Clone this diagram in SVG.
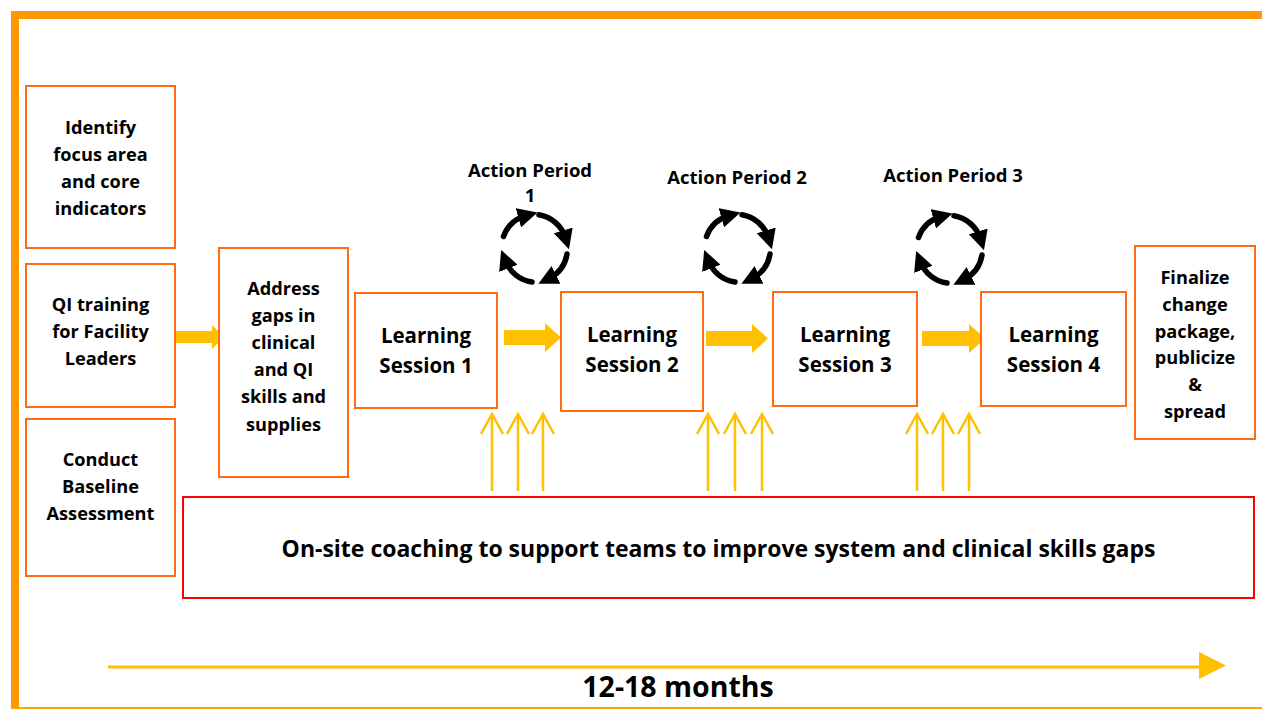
<svg xmlns="http://www.w3.org/2000/svg" width="1262" height="709" viewBox="0 0 1262 709">
  <style>
    .box { fill: #ffffff; stroke: #FF6A13; stroke-width: 2; }
    .coach { fill: #ffffff; stroke: #FF0000; stroke-width: 2; }
    .t { font-family: "Open Sans", Lato, sans-serif; font-weight: bold; fill: #000000; text-anchor: middle; }
    .s19 { font-size: 18.2px; }
    .s22 { font-size: 20.5px; }
    .ap { font-size: 18.5px; }
    .co { font-size: 23px; }
    .s26 { font-size: 28.5px; }
    .fat { fill: #FFC000; }
    .thin { stroke: #FFC000; stroke-width: 2.5; fill: none; }
    .cyc { stroke: #000000; stroke-width: 5.5; fill: none; stroke-linecap: round; marker-end: url(#cycHead); }
  </style>
  <defs>
    <marker id="cycHead" viewBox="0 0 10 10" refX="4" refY="5" markerWidth="3.6" markerHeight="3.6" markerUnits="strokeWidth" orient="auto">
      <path d="M0,0 L10,5 L0,10 Z" fill="#000000"/>
    </marker>
    <!-- one cycle of four clockwise arcs, centred on 0,0 -->
    <g id="cycle">
      <path class="cyc" d="M -31.5,-11.5 A 33.5 33.5 0 0 1 -9,-32.3"/>
      <path class="cyc" d="M 4,-33.3 A 33.5 33.5 0 0 1 30.5,-10"/>
      <path class="cyc" d="M 32,6 A 33.5 33.5 0 0 1 14,30.5"/>
      <path class="cyc" d="M -3,34 A 33.5 33.5 0 0 1 -29.5,13"/>
    </g>
    <!-- thin upward support arrow -->
    <g id="up">
      <line class="thin" x1="0" y1="78" x2="0" y2="1"/>
      <polyline class="thin" points="-11,21 0,1 11,21"/>
    </g>
  </defs>

  <!-- page frame -->
  <g id="frame">
    <rect x="11" y="11" width="1251" height="8" fill="#FF9900"/>
    <rect x="11" y="11" width="8" height="698" fill="#FF9900"/>
    <rect x="11" y="707" width="1251" height="2" fill="#FFA500"/>
  </g>

  <!-- connectors -->
  <g id="connectors">
    <path class="fat" d="M170,331 H212 V325 L224,337 L212,349 V343 H170 Z"/>
    <path class="fat" d="M504,330 H545 V323 L561,337.5 L545,352 V345 H504 Z"/>
    <path class="fat" d="M706,331 H752 V324 L768,338.5 L752,353 V346 H706 Z"/>
    <path class="fat" d="M922,331 H969 V324 L985,338.5 L969,353 V346 H922 Z"/>

    <use href="#up" x="492" y="413"/>
    <use href="#up" x="518" y="413"/>
    <use href="#up" x="543" y="413"/>
    <use href="#up" x="708" y="413"/>
    <use href="#up" x="735" y="413"/>
    <use href="#up" x="762" y="413"/>
    <use href="#up" x="917" y="413"/>
    <use href="#up" x="943" y="413"/>
    <use href="#up" x="969" y="413"/>

    <line x1="108" y1="667" x2="1201" y2="667" stroke="#FFC000" stroke-width="3"/>
    <polygon points="1199,652 1226,665.5 1199,679" fill="#FFC000"/>
  </g>

  <g id="identify">
    <rect class="box" x="26" y="86" width="149" height="162"/>
    <text class="t s19"><tspan x="100.5" y="134">Identify</tspan><tspan x="100.5" y="161">focus area</tspan><tspan x="100.5" y="188">and core</tspan><tspan x="100.5" y="215">indicators</tspan></text>
  </g>
  <g id="qi-training">
    <rect class="box" x="26" y="264" width="149" height="143"/>
    <text class="t s19"><tspan x="100.5" y="311">QI training</tspan><tspan x="100.5" y="338">for Facility</tspan><tspan x="100.5" y="365">Leaders</tspan></text>
  </g>
  <g id="baseline">
    <rect class="box" x="26" y="419" width="149" height="157"/>
    <text class="t s19"><tspan x="100.5" y="466">Conduct</tspan><tspan x="100.5" y="493">Baseline</tspan><tspan x="100.5" y="520">Assessment</tspan></text>
  </g>
  <g id="address-gaps">
    <rect class="box" x="219" y="248" width="129" height="229"/>
    <text class="t s19"><tspan x="283.5" y="295">Address</tspan><tspan x="283.5" y="322">gaps in</tspan><tspan x="283.5" y="349">clinical</tspan><tspan x="283.5" y="376">and QI</tspan><tspan x="283.5" y="403">skills and</tspan><tspan x="283.5" y="431">supplies</tspan></text>
  </g>
  <g id="session-1">
    <rect class="box" x="355" y="293" width="142" height="115"/>
    <text class="t s22"><tspan x="426" y="343">Learning</tspan><tspan x="426" y="373">Session 1</tspan></text>
  </g>
  <g id="session-2">
    <rect class="box" x="561" y="292" width="142" height="119"/>
    <text class="t s22"><tspan x="632" y="342">Learning</tspan><tspan x="632" y="372">Session 2</tspan></text>
  </g>
  <g id="session-3">
    <rect class="box" x="773" y="292" width="144" height="114"/>
    <text class="t s22"><tspan x="845" y="342">Learning</tspan><tspan x="845" y="372">Session 3</tspan></text>
  </g>
  <g id="session-4">
    <rect class="box" x="981" y="292" width="145" height="114"/>
    <text class="t s22"><tspan x="1053.5" y="342">Learning</tspan><tspan x="1053.5" y="372">Session 4</tspan></text>
  </g>
  <g id="finalize">
    <rect class="box" x="1135" y="246" width="120" height="193"/>
    <text class="t s19"><tspan x="1195" y="284">Finalize</tspan><tspan x="1195" y="311">change</tspan><tspan x="1195" y="338">package,</tspan><tspan x="1195" y="364">publicize</tspan><tspan x="1195" y="391">&amp;</tspan><tspan x="1195" y="418">spread</tspan></text>
  </g>

  <g id="action-period-1">
    <text class="t ap" x="530" y="177">Action Period</text>
    <text class="t ap" x="530" y="202">1</text>
    <use href="#cycle" x="535" y="248"/>
  </g>
  <g id="action-period-2">
    <text class="t ap" x="737" y="184">Action Period 2</text>
    <use href="#cycle" x="738" y="248"/>
  </g>
  <g id="action-period-3">
    <text class="t ap" x="953" y="182">Action Period 3</text>
    <use href="#cycle" x="950" y="249"/>
  </g>

  <g id="coaching">
    <rect class="coach" x="183" y="497" width="1071" height="101"/>
    <text class="t co" x="718.5" y="557">On-site coaching to support teams to improve system and clinical skills gaps</text>
  </g>

  <g id="timeline-label">
    <text class="t s26" x="678" y="697">12-18 months</text>
  </g>
</svg>
